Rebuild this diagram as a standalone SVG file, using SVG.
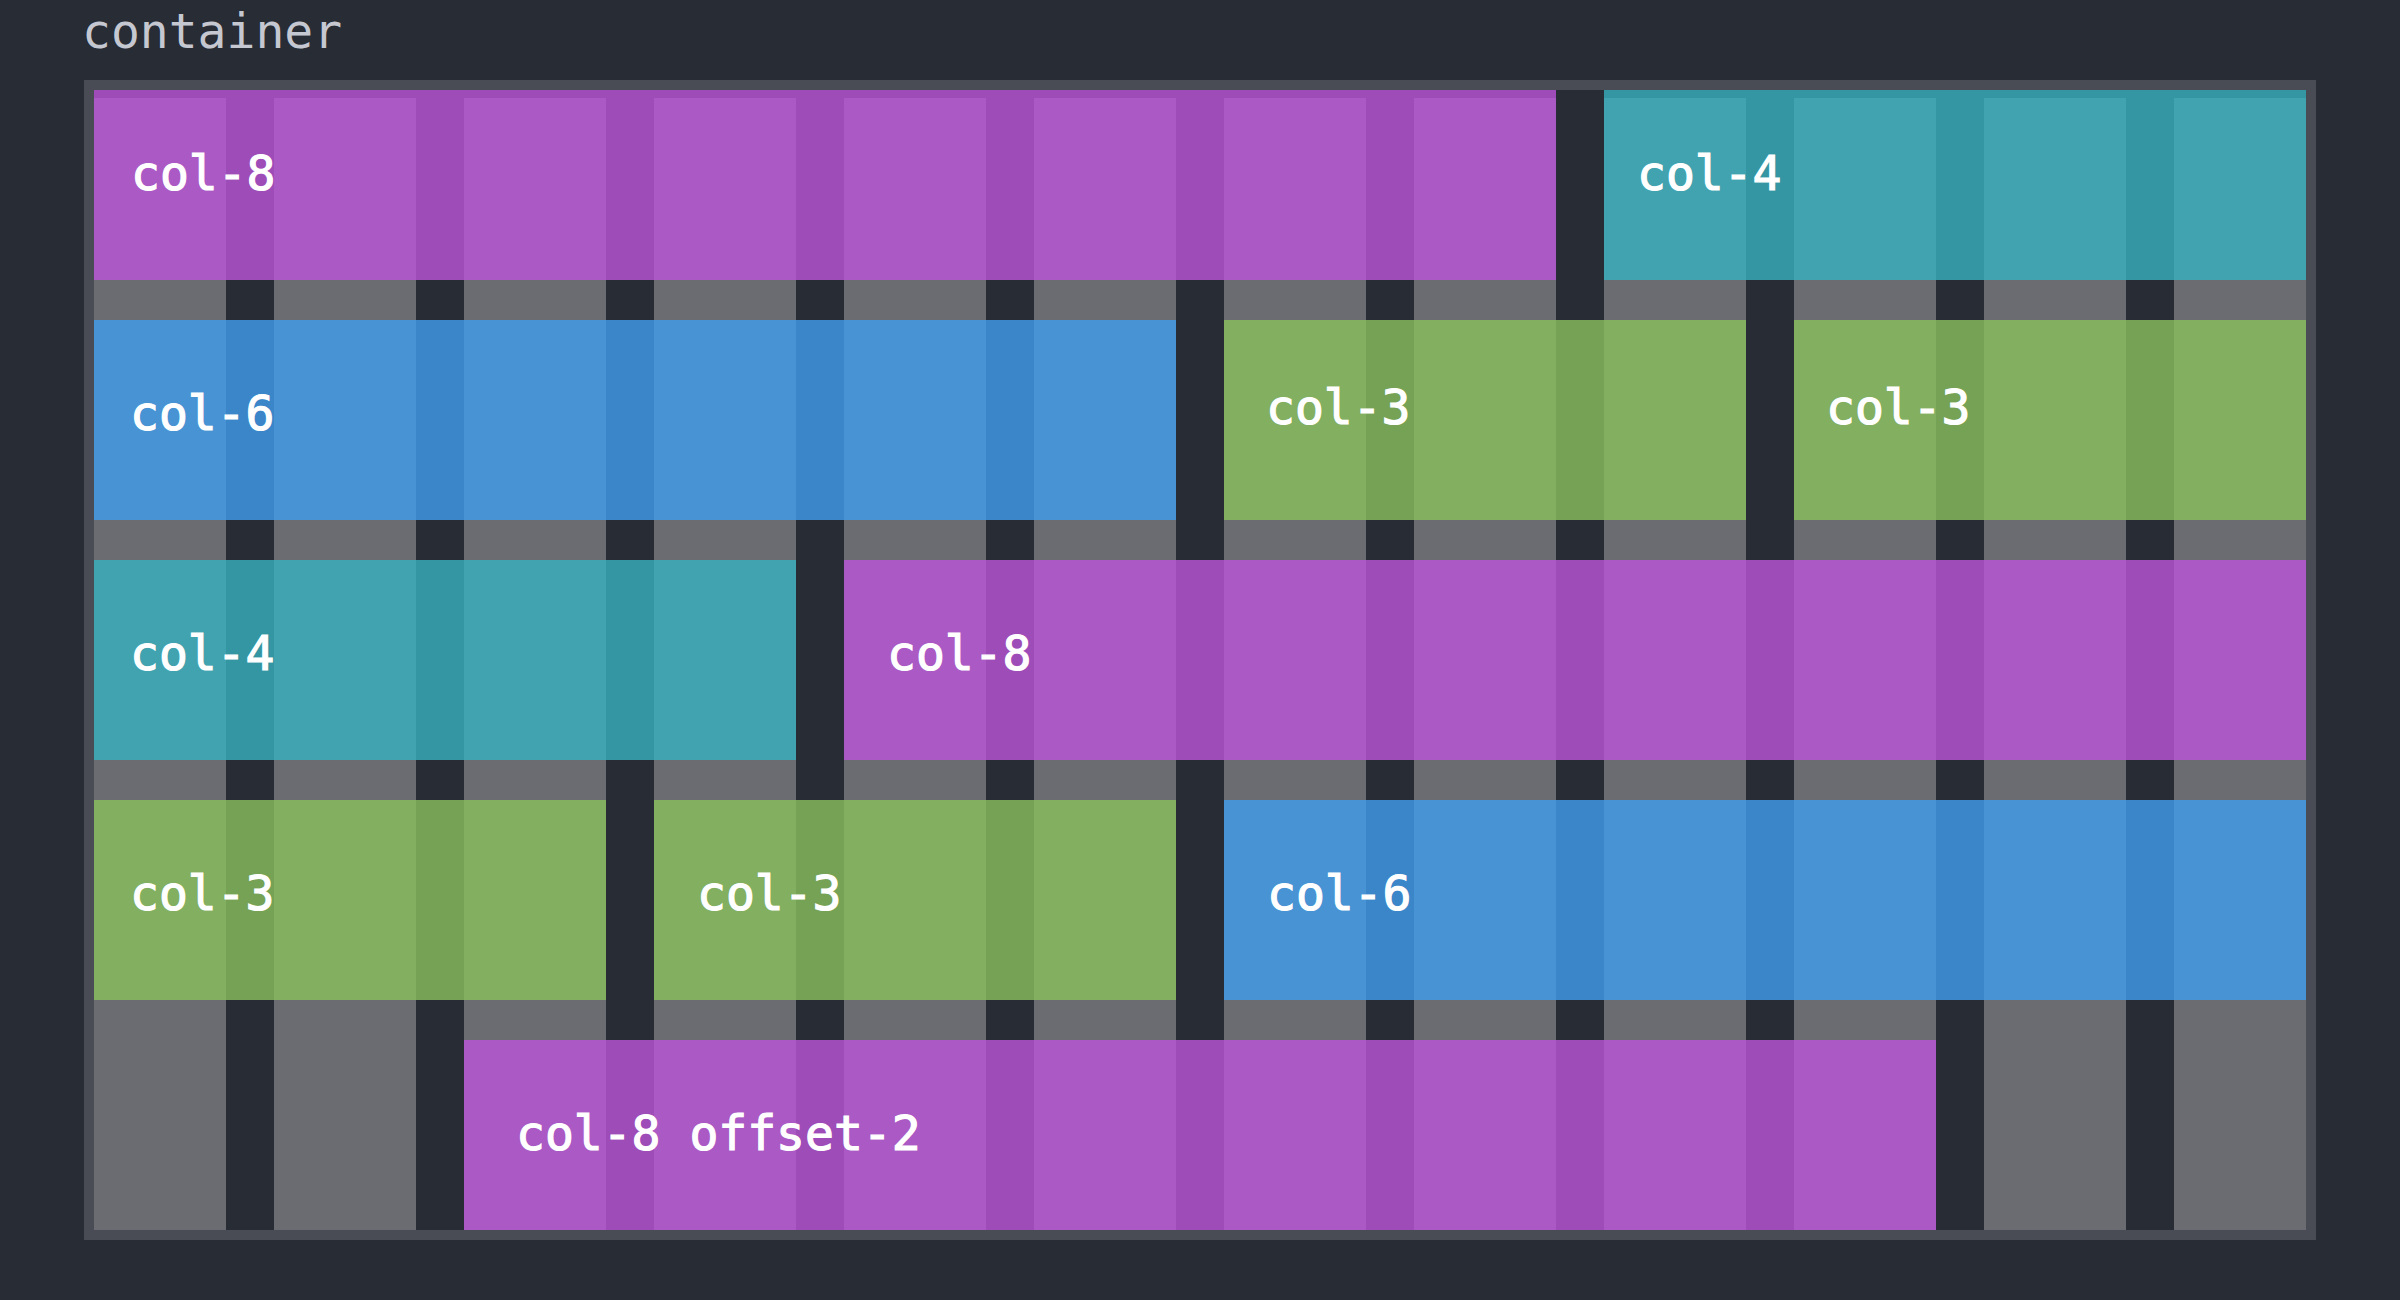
<svg xmlns="http://www.w3.org/2000/svg" width="2400" height="1300" viewBox="0 0 2400 1300">
<style>
.bg{fill:#282c35}
.frame{fill:#494c55}
.colbg{fill:#6b6c71}
.purple{fill:#bb55da;fill-opacity:0.8}
.blue{fill:#3e9eee;fill-opacity:0.8}
.teal{fill:#37b1bf;fill-opacity:0.8}
.green{fill:#88c15c;fill-opacity:0.8}
.title{font-family:"DejaVu Sans Mono","Liberation Mono",monospace;font-size:48px;fill:#c5c8d0}
.lbl{font-family:"DejaVu Sans Mono","Liberation Mono",monospace;font-size:48px;fill:#ffffff;stroke:#ffffff;stroke-width:1.2px}
</style>
<rect class="bg" x="0" y="0" width="2400" height="1300"/>
<text class="title" x="82" y="48">container</text>
<g id="container">
<rect class="frame" x="84" y="80" width="2232" height="1160"/>
<rect class="bg" x="94" y="90" width="2212" height="1140"/>
</g>
<g id="grid-columns">
<rect class="colbg" x="94" y="98" width="132" height="1132"/>
<rect class="colbg" x="274" y="98" width="142" height="1132"/>
<rect class="colbg" x="464" y="98" width="142" height="1132"/>
<rect class="colbg" x="654" y="98" width="142" height="1132"/>
<rect class="colbg" x="844" y="98" width="142" height="1132"/>
<rect class="colbg" x="1034" y="98" width="142" height="1132"/>
<rect class="colbg" x="1224" y="98" width="142" height="1132"/>
<rect class="colbg" x="1414" y="98" width="142" height="1132"/>
<rect class="colbg" x="1604" y="98" width="142" height="1132"/>
<rect class="colbg" x="1794" y="98" width="142" height="1132"/>
<rect class="colbg" x="1984" y="98" width="142" height="1132"/>
<rect class="colbg" x="2174" y="98" width="132" height="1132"/>
</g>
<g id="connectors"/>
<g id="r1-col-8"><rect class="purple" x="94" y="90" width="1462" height="190"/><text class="lbl" x="131" y="190">col-8</text></g>
<g id="r1-col-4"><rect class="teal" x="1604" y="90" width="702" height="190"/><text class="lbl" x="1637" y="190">col-4</text></g>
<g id="r2-col-6"><rect class="blue" x="94" y="320" width="1082" height="200"/><text class="lbl" x="130" y="430">col-6</text></g>
<g id="r2-col-3a"><rect class="green" x="1224" y="320" width="522" height="200"/><text class="lbl" x="1266" y="424">col-3</text></g>
<g id="r2-col-3b"><rect class="green" x="1794" y="320" width="512" height="200"/><text class="lbl" x="1826" y="424">col-3</text></g>
<g id="r3-col-4"><rect class="teal" x="94" y="560" width="702" height="200"/><text class="lbl" x="130" y="670">col-4</text></g>
<g id="r3-col-8"><rect class="purple" x="844" y="560" width="1462" height="200"/><text class="lbl" x="887" y="670">col-8</text></g>
<g id="r4-col-3a"><rect class="green" x="94" y="800" width="512" height="200"/><text class="lbl" x="130" y="910">col-3</text></g>
<g id="r4-col-3b"><rect class="green" x="654" y="800" width="522" height="200"/><text class="lbl" x="697" y="910">col-3</text></g>
<g id="r4-col-6"><rect class="blue" x="1224" y="800" width="1082" height="200"/><text class="lbl" x="1267" y="910">col-6</text></g>
<g id="r5-col-8-offset-2"><rect class="purple" x="464" y="1040" width="1472" height="190"/><text class="lbl" x="516" y="1150">col-8 offset-2</text></g>
</svg>
